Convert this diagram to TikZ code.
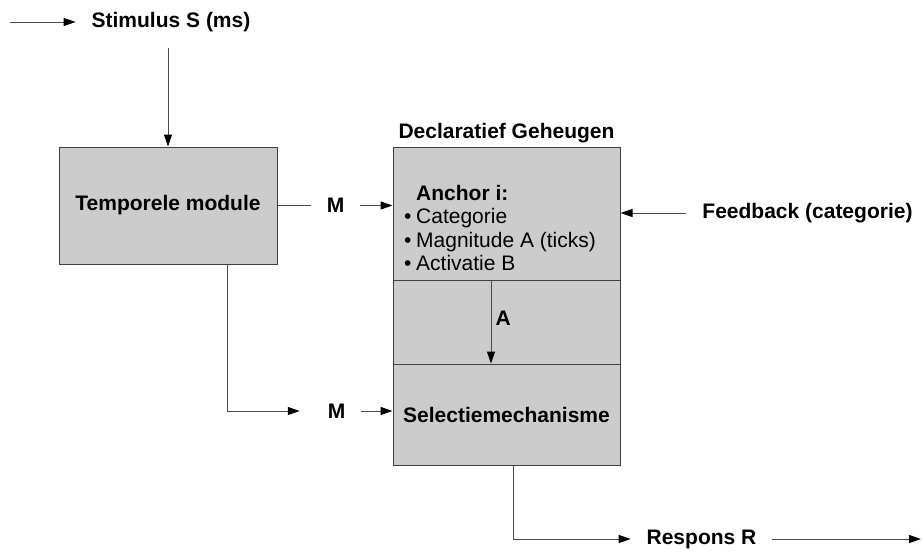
\documentclass[tikz,border=0pt]{standalone}
\usepackage{fontspec}
\setmainfont{Liberation Sans}
\usepackage{tikz}
\usetikzlibrary{arrows.meta}
\usetikzlibrary{positioning}
\tikzset{
    module/.style={
        draw=black!75,
        fill=gray!40,
        rectangle,
        line width=1pt,
        font=\fontsize{21}{25}\selectfont\bfseries
    },
    signal/.style={
        inner sep=16pt,
        outer sep=0pt,
        font=\fontsize{21}{25}\selectfont\bfseries
    },
    flow/.style={
        draw=black!70,
        line width=1pt,
        -{Triangle[length=12pt, width=8pt, black]}
    }
}

\begin{document}
\begin{tikzpicture}[x=1pt, y=-1pt]
    \useasboundingbox (0,0) rectangle (922,552);
    % Modules
    \node[module, minimum width=218pt, minimum height=117pt] (tm) at (168,205.5) {Temporele module};
    \node[module, minimum width=227pt, minimum height=133pt] (anchor) at (506.5,213.5) {};
    \node[module, minimum width=227pt, minimum height=84pt] (mid) at (506.5,322) {};
    \node[module, minimum width=227pt, minimum height=101pt] (sel) at (506.5,414.5) {Selectiemechanisme};
    \node[font=\fontsize{21}{25}\selectfont\bfseries] (dg) at (506.5,133) {Declaratief Geheugen};
    \node[anchor=north west, inner sep=0pt, align=left, font=\fontsize{21}{23.5}\selectfont] (slots) at (404,185)
        {\makebox[12pt][l]{}\textbf{Anchor i:}\\
         \makebox[12pt][l]{\textbullet}Categorie\\
         \makebox[12pt][l]{\textbullet}Magnitude A (ticks)\\
         \makebox[12pt][l]{\textbullet}Activatie B};

    % Signals
    \node[signal] (stim) at (171,22) {Stimulus S (ms)};
    \node[signal] (m1) at (335.5,205.5) {M};
    \node[signal] (m2) at (336.5,411) {M};
    \node[signal] (fb) at (807.5,213) {Feedback (categorie)};
    \node[signal] (resp) at (701.5,539) {Respons R};
    \coordinate (in) at (10,22);
    \coordinate (out) at (921,539);

    % Connections
    \draw[flow] (in) -- (stim);
    \draw[flow] (stim.south -| tm.north) -- (tm.north);
    \draw[flow, -] (tm) -- (m1);
    \draw[flow] (m1) -- (m1 -| anchor.west);
    \draw[flow] (fb) -- (fb -| anchor.east);
    \draw[flow] ([xshift=-15.5pt]anchor.south) -- ([xshift=-15.5pt]sel.north)
        node[pos=0.45, right, inner sep=4pt, font=\fontsize{21}{25}\selectfont\bfseries] {A};
    \draw[flow, shorten >=12pt] ([xshift=59pt]tm.south) |- (m2);
    \draw[flow] (m2) -- (m2 -| sel.west);
    \draw[flow] ([xshift=6.5pt]sel.south) |- (resp);
    \draw[flow] (resp) -- (out);
\end{tikzpicture}
\end{document}
